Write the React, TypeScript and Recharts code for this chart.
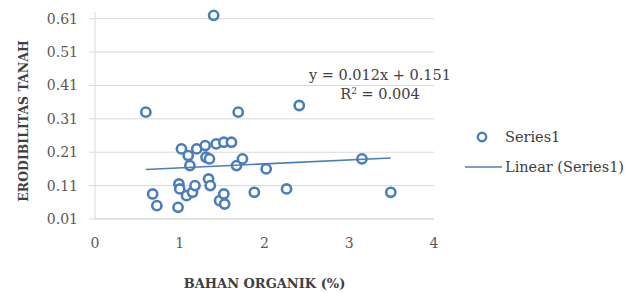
import { ScatterChart, Scatter, XAxis, YAxis, ReferenceLine } from 'recharts'

// Bahan organik (%) vs erodibilitas tanah
const bahanOrganik = [
  0.6, 0.68, 0.73, 0.98, 0.99, 1.0, 1.02, 1.08, 1.1, 1.12, 1.15, 1.18,
  1.2, 1.3, 1.31, 1.35, 1.34, 1.36, 1.4, 1.43, 1.47, 1.52, 1.53, 1.52,
  1.61, 1.67, 1.69, 1.74, 1.88, 2.02, 2.26, 2.41, 3.15, 3.49,
]
const erodibilitas = [
  0.33, 0.085, 0.05, 0.045, 0.115, 0.1, 0.22, 0.08, 0.2, 0.17, 0.09, 0.11,
  0.22, 0.23, 0.195, 0.19, 0.13, 0.11, 0.62, 0.235, 0.065, 0.085, 0.055, 0.24,
  0.24, 0.17, 0.33, 0.19, 0.09, 0.16, 0.1, 0.35, 0.19, 0.09,
]

const xTicks = [0, 1, 2, 3, 4]
const yTicks = [0.01, 0.11, 0.21, 0.31, 0.41, 0.51, 0.61]

// linear trendline shown on the chart: y = 0.012x + 0.151
const trendSlope = 0.012
const trendIntercept = 0.151
const trendX = [0.6, 3.49]

const points = bahanOrganik.map((x, i) => ({ x, y: erodibilitas[i] }))
const trend = trendX.map(x => ({ x, y: trendSlope * x + trendIntercept }))

const BLUE = '#4A7EBB'
const GRID = '#d9d9d9'
const SERIF = '"DejaVu Serif", serif'

function Ring(props: any) {
  const { cx, cy } = props
  if (cx == null || cy == null) return <g />
  return <circle cx={cx} cy={cy} r={4.6} fill="#fff" stroke={BLUE} strokeWidth={2.6} />
}

export default function App() {
  return (
    <div style={{ position: 'absolute', left: 0, top: 0, width: 629, height: 293, background: '#fff', fontFamily: SERIF }}>
      <ScatterChart
        width={629}
        height={293}
        margin={{ top: 12, right: 195, bottom: 0, left: 5 }}
        accessibilityLayer={false}
        style={{ outline: 'none' }}
      >
        {yTicks.map(t => (
          <ReferenceLine key={t} y={t} stroke={GRID} strokeWidth={1} ifOverflow="visible" />
        ))}
        <XAxis
          type="number"
          dataKey="x"
          domain={[0, 4]}
          ticks={xTicks}
          height={74}
          tickSize={0}
          tickMargin={19}
          tickLine={false}
          axisLine={{ stroke: GRID }}
          tick={{ fontSize: 14, fill: '#595959', fontFamily: SERIF }}
          label={{
            value: 'BAHAN ORGANIK (%)',
            position: 'insideBottom',
            offset: 5,
            style: { fontSize: 13, fontWeight: 700, fill: '#404040', fontFamily: SERIF },
          }}
        />
        <YAxis
          type="number"
          dataKey="y"
          domain={[0.01, 0.63]}
          ticks={yTicks}
          width={90}
          tickSize={6}
          tickMargin={11}
          tickLine={{ stroke: GRID }}
          axisLine={{ stroke: GRID }}
          tickFormatter={(v: number) => v.toFixed(2)}
          tick={{ fontSize: 14, fill: '#595959', fontFamily: SERIF }}
        />
        <Scatter data={points} shape={<Ring />} isAnimationActive={false} />
        <Scatter
          data={trend}
          line={{ stroke: BLUE, strokeWidth: 1.6 }}
          shape={() => <g />}
          isAnimationActive={false}
        />
      </ScatterChart>

      <div style={{
        position: 'absolute', left: 23, top: 121, transform: 'translate(-50%, -50%) rotate(-90deg)',
        whiteSpace: 'nowrap', fontSize: 12.5, fontWeight: 700, color: '#404040', lineHeight: '15px',
      }}>
        ERODIBILITAS TANAH
      </div>

      <div style={{
        position: 'absolute', left: 280, top: 66, width: 200, textAlign: 'center',
        fontSize: 14.5, lineHeight: '19px', color: '#404040', whiteSpace: 'nowrap',
      }}>
        <div>y = 0.012x + 0.151</div>
        <div>R<sup style={{ fontSize: 9, verticalAlign: 'top', lineHeight: '12px' }}>2</sup> = 0.004</div>
      </div>

      <div style={{ position: 'absolute', left: 462, top: 126, fontSize: 14.5, color: '#404040', lineHeight: '22px' }}>
        <div style={{ display: 'flex', alignItems: 'center', height: 22 }}>
          <svg width={40} height={22}><circle cx={20} cy={11} r={4.2} fill="#fff" stroke={BLUE} strokeWidth={2.4} /></svg>
          <span style={{ marginLeft: 3 }}>Series1</span>
        </div>
        <div style={{ display: 'flex', alignItems: 'center', height: 22, marginTop: 8 }}>
          <svg width={40} height={22}><line x1={3} y1={11} x2={40} y2={11} stroke={BLUE} strokeWidth={1.6} /></svg>
          <span style={{ marginLeft: 3, whiteSpace: 'nowrap' }}>Linear (Series1)</span>
        </div>
      </div>
    </div>
  )
}
